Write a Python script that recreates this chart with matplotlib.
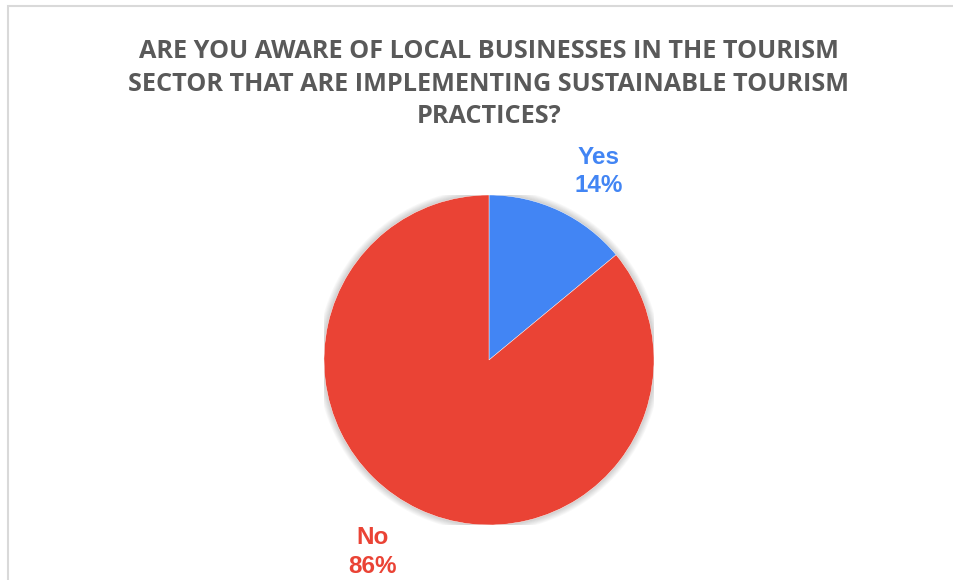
import numpy as np
import matplotlib.pyplot as plt
from matplotlib.patches import Circle, Rectangle

TITLE = "ARE YOU AWARE OF LOCAL BUSINESSES IN THE TOURISM\nSECTOR THAT ARE IMPLEMENTING SUSTAINABLE TOURISM\nPRACTICES?"
labels = ['Yes', 'No']
values = [14, 86]
colours = ['#4285F4', '#EA4335']

W, H = 954, 580
fig = plt.figure(figsize=(W / 100, H / 100), dpi=100)

# thin grey chart frame (top and left edges visible)
fig.patches.append(Rectangle((8 / W, -0.1), 1.2, (H - 6) / H + 0.1, transform=fig.transFigure,
                             fill=False, edgecolor='#d9d9d9', linewidth=1.5))

fig.text(489 / W, 1 - 84 / H, TITLE, ha='center', va='center', fontsize=18.2,
         fontweight='bold', color='#595959', family='Open Sans', linespacing=1.42)

# pie area: centre (489, 360), radius 165 px
cx, cy, r = 489, 360, 165
ax = fig.add_axes([(cx - r) / W, (H - cy - r) / H, 2 * r / W, 2 * r / H])
ax.axis('off')

# soft shadow around the pie
for i in range(8):
    ax.add_patch(Circle((0, 0.0), 1.0 + 0.005 * (i + 1), color='black', alpha=0.022,
                        linewidth=0, zorder=0))

wedges, _ = ax.pie(values, colors=colours, startangle=90, counterclock=False, radius=1.0,
                   wedgeprops=dict(linewidth=0.3, edgecolor='white'))
for w in wedges:
    w.set_zorder(2)
ax.set_xlim(-1, 1)
ax.set_ylim(-1, 1)
ax.set_aspect('equal')

# data labels outside the slices
start = 90.0
total = sum(values)
for lab, val, col in zip(labels, values, colours):
    sweep = val / total * 360
    mid = np.deg2rad(start - sweep / 2 - (5 if lab == 'Yes' else 6))
    start -= sweep
    d = 1.32 if lab == 'Yes' else 1.36
    ax.text(d * np.cos(mid), d * np.sin(mid), f"{lab}\n{val}%", ha='center', va='center',
            fontsize=17.5, fontweight='bold', color=col, family='Liberation Sans',
            linespacing=1.3, clip_on=False)

fig.savefig('out.png', dpi=100)
